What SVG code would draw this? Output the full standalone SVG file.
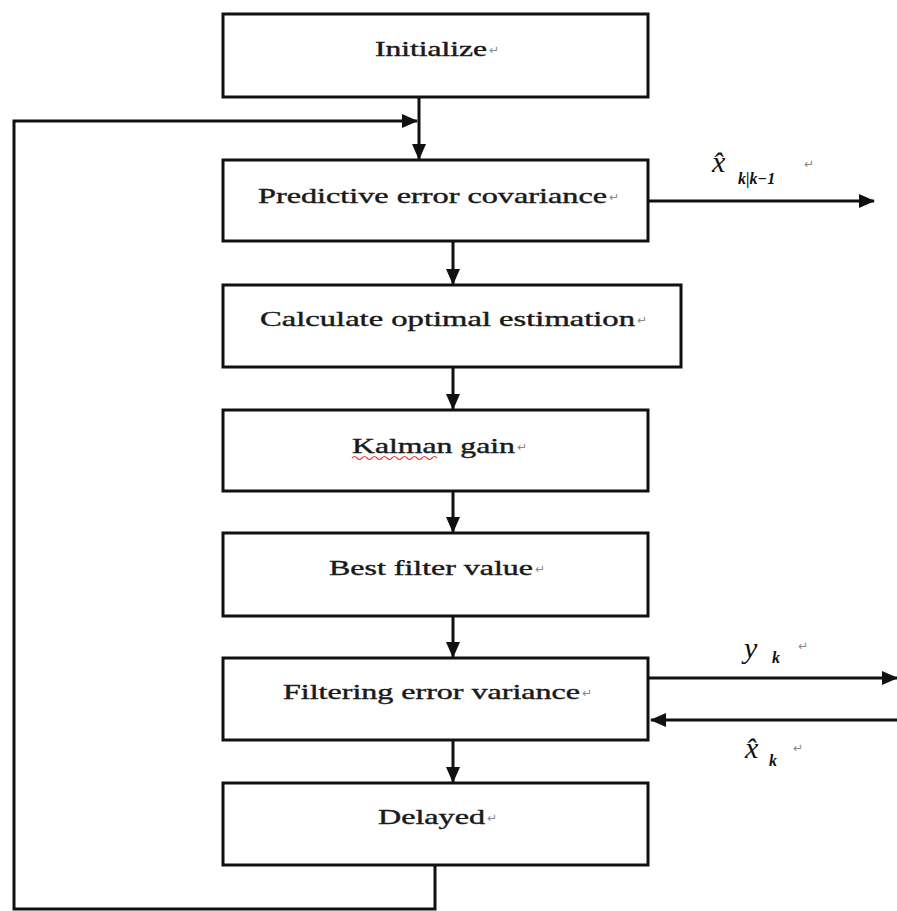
<svg xmlns="http://www.w3.org/2000/svg" width="897" height="911" viewBox="0 0 897 911">
<defs>
<style>
.box{fill:#fff;stroke:#111;stroke-width:3}
.lbl{font-family:"Liberation Serif","DejaVu Serif",serif;font-size:21px;fill:#1a1a1a;stroke:#1a1a1a;stroke-width:0.4}
.ret{font-family:"DejaVu Sans",sans-serif;font-size:12px;fill:#888}
.math{font-family:"Liberation Serif","DejaVu Serif",serif;font-style:italic;fill:#111}
.conn{fill:none;stroke:#111;stroke-width:3}
</style>
<marker id="ah" markerUnits="userSpaceOnUse" markerWidth="16" markerHeight="14" refX="15" refY="7" orient="auto">
<path d="M0,0 L16,7 L0,14 Z" fill="#111"/>
</marker>
</defs>
<rect width="897" height="911" fill="#fff"/>
<g id="connectors">
<line class="conn" x1="419" y1="97" x2="419" y2="159" marker-end="url(#ah)"/>
<line class="conn" x1="453" y1="241" x2="453" y2="284" marker-end="url(#ah)"/>
<line class="conn" x1="453" y1="367" x2="453" y2="409" marker-end="url(#ah)"/>
<line class="conn" x1="453" y1="491" x2="453" y2="532" marker-end="url(#ah)"/>
<line class="conn" x1="453" y1="616" x2="453" y2="657" marker-end="url(#ah)"/>
<line class="conn" x1="453" y1="740" x2="453" y2="782" marker-end="url(#ah)"/>
<path class="conn" d="M435,865 V909 H14 V121 H417" marker-end="url(#ah)"/>
<line class="conn" x1="648" y1="201" x2="874" y2="201" marker-end="url(#ah)"/>
<line class="conn" x1="648" y1="678" x2="897" y2="678" marker-end="url(#ah)"/>
<line class="conn" x1="897" y1="720" x2="651" y2="720" marker-end="url(#ah)"/>
</g>
<g id="n1"><rect class="box" x="223" y="14" width="425" height="83"/>
<text class="lbl" x="375" y="56" textLength="112" lengthAdjust="spacingAndGlyphs">Initialize</text><text class="ret" x="489" y="54">↵</text></g>
<g id="n2"><rect class="box" x="223" y="160" width="425" height="81"/>
<text class="lbl" x="258" y="203" textLength="349" lengthAdjust="spacingAndGlyphs">Predictive error covariance</text><text class="ret" x="609" y="201">↵</text></g>
<g id="n3"><rect class="box" x="223" y="285" width="458" height="82"/>
<text class="lbl" x="260" y="326" textLength="375" lengthAdjust="spacingAndGlyphs">Calculate optimal estimation</text><text class="ret" x="637" y="324">↵</text></g>
<g id="n4"><rect class="box" x="223" y="410" width="425" height="81"/>
<text class="lbl" x="352" y="453" textLength="163" lengthAdjust="spacingAndGlyphs">Kalman gain</text><text class="ret" x="517" y="451">↵</text>
<path d="M352,458 q2.5,-3 5,0 t5,0 t5,0 t5,0 t5,0 t5,0 t5,0 t5,0 t5,0 t5,0 t5,0 t5,0 t5,0 t5,0 t5,0 t5,0 t5,0" fill="none" stroke="#e04040" stroke-width="1.2"/></g>
<g id="n5"><rect class="box" x="223" y="533" width="425" height="83"/>
<text class="lbl" x="329" y="575" textLength="204" lengthAdjust="spacingAndGlyphs">Best filter value</text><text class="ret" x="535" y="573">↵</text></g>
<g id="n6"><rect class="box" x="223" y="658" width="425" height="82"/>
<text class="lbl" x="283" y="699" textLength="297" lengthAdjust="spacingAndGlyphs">Filtering error variance</text><text class="ret" x="582" y="697">↵</text></g>
<g id="n7"><rect class="box" x="223" y="783" width="425" height="82"/>
<text class="lbl" x="378" y="824" textLength="107" lengthAdjust="spacingAndGlyphs">Delayed</text><text class="ret" x="487" y="822">↵</text></g>
<g id="labels">
<text class="math" x="712" y="172" font-size="30">x̂</text>
<text class="math" x="738" y="184" font-size="16" font-weight="bold">k|k−1</text>
<text class="ret" x="804" y="168">↵</text>
<text class="math" x="744" y="658" font-size="30">y</text>
<text class="math" x="772" y="663" font-size="16" font-weight="bold">k</text>
<text class="ret" x="798" y="650">↵</text>
<text class="math" x="745" y="758" font-size="30">x̂</text>
<text class="math" x="769" y="766" font-size="16" font-weight="bold">k</text>
<text class="ret" x="793" y="752">↵</text>
</g>
</svg>
